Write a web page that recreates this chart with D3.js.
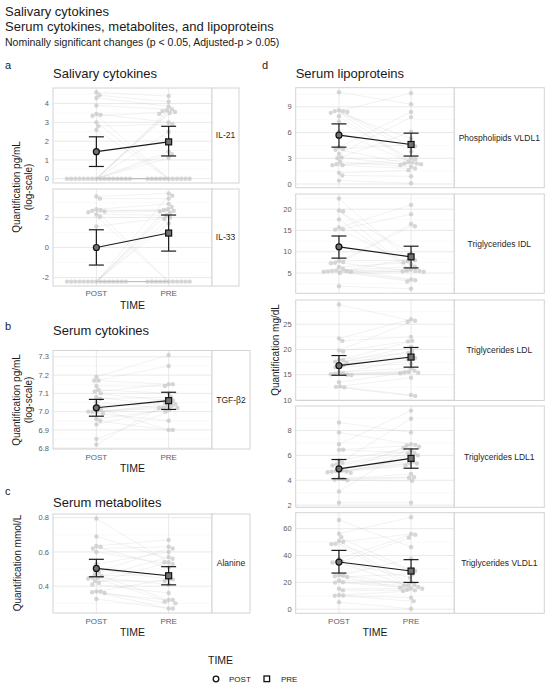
<!DOCTYPE html>
<html lang="en">
<head>
<meta charset="utf-8">
<script src="https://d3js.org/d3.v7.min.js"></script>
<style>
  body { margin: 0; background: #fff; }
  svg { font-family: "Liberation Sans", Arial, sans-serif; }
</style>
</head>
<body>
<div id="chart"></div>
<script>
  // categories
  const times = ["POST", "PRE"];

  // salivary cytokines, IL-21 (log-scale), paired by index
  const il21Post = [4.6, 4.45, 4.3, 3.9, 3.45, 3.4, 3.35, 3.0, 2.8, 2.6, 0, 0, 0, 0, 0, 0, 0, 0, 0, 0, 0, 0, 0, 0, 0, 0];
  const il21Pre = [4.4, 4.1, 3.85, 3.7, 3.0, 0, 3.55, 0, 2.9, 0, 3.65, 3.6, 3.5, 3.45, 2.5, 1.45, 1.3, 1.1, 0, 0, 0, 0, 0, 0, 0, 0];
  const il21Mean = [1.44, 1.96], il21Lo = [0.65, 1.21], il21Hi = [2.23, 2.79];
  const il21Ticks = [0, 1, 2, 3, 4];

  // IL-33 (log-scale), -2.27 is the floor row
  const il33Post = [3.4, 3.25, 2.55, 2.5, 2.45, 2.4, 2.35, 2.2, 2.05, 1.4, -2.27, -2.27, -2.27, -2.27, -2.27, -2.27, -2.27, -2.27, -2.27, -2.27, -2.27, -2.27, -2.27, -2.27, -2.27];
  const il33Pre = [3.6, 3.25, 2.9, 2.45, -2.27, 2.55, 2.4, 2.15, -2.27, 2.0, 3.45, 2.7, 2.3, 1.9, 2.5, 1.6, -2.27, -2.27, -2.27, -2.27, -2.27, -2.27, -2.27, -2.27, -2.27];
  const il33Mean = [0.0, 0.96], il33Lo = [-1.17, -0.24], il33Hi = [1.18, 2.16];
  const il33Ticks = [-2, 0, 2];

  // serum cytokines, TGF-b2 (log-scale)
  const tgfPost = [7.19, 7.17, 7.17, 7.14, 7.12, 7.11, 7.10, 7.08, 7.07, 7.05, 7.03, 7.02, 7.01, 7.00, 7.00, 7.00, 6.99, 6.96, 6.95, 6.93, 6.85, 6.82];
  const tgfPre = [7.31, 7.15, 7.25, 7.14, 7.10, 7.15, 7.06, 7.03, 7.08, 7.02, 7.05, 6.90, 7.07, 7.04, 7.02, 7.03, 6.95, 7.01, 6.90, 7.02, 7.00, 7.05];
  const tgfMean = [7.021, 7.06], tgfLo = [6.975, 7.012], tgfHi = [7.067, 7.106];
  const tgfTicks = [6.8, 6.9, 7.0, 7.1, 7.2, 7.3];

  // serum metabolites, alanine (mmol/L)
  const alaPost = [0.795, 0.69, 0.635, 0.63, 0.62, 0.60, 0.53, 0.50, 0.48, 0.47, 0.46, 0.45, 0.45, 0.445, 0.43, 0.42, 0.41, 0.37, 0.37, 0.365, 0.36, 0.325];
  const alaPre = [0.54, 0.56, 0.67, 0.51, 0.63, 0.53, 0.60, 0.44, 0.62, 0.32, 0.47, 0.41, 0.57, 0.31, 0.43, 0.54, 0.36, 0.30, 0.44, 0.27, 0.32, 0.27];
  const alaMean = [0.504, 0.461], alaLo = [0.455, 0.408], alaHi = [0.557, 0.514];
  const alaTicks = [0.4, 0.6, 0.8];

  // serum lipoproteins (mg/dL)
  const plVldl1Post = [10.7, 8.6, 8.5, 8.5, 8.4, 8.3, 7.9, 7.3, 6.1, 4.3, 4.1, 4.0, 3.5, 3.1, 3.0, 2.6, 2.3, 2.2, 2.2, 1.3, 1.0, 0.4];
  const plVldl1Pre = [9.3, 4.4, 3.8, 10.6, 2.6, 5.3, 2.4, 3.0, 2.5, 8.4, 4.6, 2.3, 7.8, 2.2, 6.1, 2.0, 2.4, 1.8, 2.9, 1.6, 0.9, 0.1];
  const plVldl1Mean = [5.7, 4.61], plVldl1Lo = [4.3, 3.26], plVldl1Hi = [7.01, 5.93];
  const plVldl1Ticks = [0, 3, 6, 9];

  const tgIdlPost = [22.5, 19.7, 19.5, 17.6, 15.7, 15.3, 15.2, 7.9, 7.6, 7.4, 7.3, 6.4, 6.0, 5.6, 5.5, 5.5, 5.4, 5.3, 5.3, 5.0, 1.9];
  const tgIdlPre = [7.8, 5.6, 9.6, 5.5, 21.0, 7.0, 18.8, 8.0, 16.5, 5.4, 16.0, 7.5, 3.5, 6.5, 5.3, 3.3, 5.8, 3.0, 8.4, 5.5, 1.3];
  const tgIdlMean = [11.15, 8.8], tgIdlLo = [8.5, 6.2], tgIdlHi = [13.7, 11.3];
  const tgIdlTicks = [5, 10, 15, 20];

  const tgLdlPost = [28.9, 22.2, 21.7, 19.8, 19.6, 18.0, 17.9, 17.6, 17.4, 17.0, 16.9, 16.5, 15.5, 15.3, 15.2, 15.1, 15.0, 14.9, 13.5, 12.7, 12.6, 12.5];
  const tgLdlPre = [25.7, 26.0, 22.5, 25.5, 21.7, 19.3, 21.6, 18.6, 20.5, 18.3, 19.7, 17.2, 16.3, 18.0, 15.5, 15.8, 15.4, 15.3, 15.6, 14.4, 11.0, 10.8];
  const tgLdlMean = [16.8, 18.5], tgLdlLo = [14.9, 16.5], tgLdlHi = [18.8, 20.4];
  const tgLdlTicks = [10, 15, 20, 25];

  const tgLdl1Post = [8.65, 7.85, 6.9, 6.45, 6.45, 5.6, 5.4, 5.3, 5.2, 5.0, 4.8, 4.75, 4.7, 4.7, 4.65, 4.6, 4.15, 4.1, 4.05, 4.0, 3.1, 2.2];
  const tgLdl1Pre = [7.85, 6.9, 9.6, 6.8, 6.2, 6.6, 8.95, 6.4, 6.15, 5.5, 6.0, 5.4, 6.85, 5.35, 5.2, 5.8, 4.25, 4.5, 4.2, 3.95, 6.7, 2.2];
  const tgLdl1Mean = [4.92, 5.76], tgLdl1Lo = [4.13, 4.97], tgLdl1Hi = [5.67, 6.52];
  const tgLdl1Ticks = [2, 4, 6, 8];

  const tgVldl1Post = [66.5, 56.3, 53.7, 50.8, 50.2, 48.8, 48.5, 37.6, 35.5, 35.0, 34.8, 25.5, 25.0, 24.5, 24.0, 21.4, 20.1, 19.8, 15.2, 14.0, 10.5, 10.2, 10.0, 5.2];
  const tgVldl1Pre = [46.3, 68.5, 29.0, 17.7, 56.0, 28.5, 15.5, 55.5, 23.4, 16.5, 53.3, 18.0, 37.6, 14.5, 26.0, 20.0, 17.5, 16.0, 15.2, 14.0, 13.5, 8.5, 6.0, 0.3];
  const tgVldl1Mean = [35.1, 28.4], tgVldl1Lo = [26.9, 19.9], tgVldl1Hi = [43.8, 36.9];
  const tgVldl1Ticks = [0, 20, 40, 60];

  const W = 550, H = 687;
  const gridMajor = "#e6e6e6", gridMinor = "#f3f3f3", borderCol = "#d3d3d3";

  const svg = d3.select("#chart").append("svg")
    .attr("width", W).attr("height", H);

  // panels: data + where each facet sits
  const panels = [
    {label: "IL-21", post: il21Post, pre: il21Pre, mean: il21Mean, lo: il21Lo, hi: il21Hi, ticks: il21Ticks, fmt: d3.format("d"),
      x0: 53, x1: 212, xs: 239, y0: 88, y1: 183},
    {label: "IL-33", post: il33Post, pre: il33Pre, mean: il33Mean, lo: il33Lo, hi: il33Hi, ticks: il33Ticks, fmt: v => String(v),
      x0: 53, x1: 212, xs: 239, y0: 189, y1: 286},
    {label: "TGF-β2", post: tgfPost, pre: tgfPre, mean: tgfMean, lo: tgfLo, hi: tgfHi, ticks: tgfTicks, fmt: d3.format(".1f"),
      x0: 53, x1: 212, xs: 250, y0: 350.5, y1: 449},
    {label: "Alanine", post: alaPost, pre: alaPre, mean: alaMean, lo: alaLo, hi: alaHi, ticks: alaTicks, fmt: d3.format(".1f"),
      x0: 53, x1: 212, xs: 250, y0: 514, y1: 613},
    {label: "Phospholipids VLDL1", post: plVldl1Post, pre: plVldl1Pre, mean: plVldl1Mean, lo: plVldl1Lo, hi: plVldl1Hi, ticks: plVldl1Ticks, fmt: d3.format("d"),
      x0: 295.7, x1: 454.3, xs: 544.3, y0: 87.7, y1: 187.7},
    {label: "Triglycerides IDL", post: tgIdlPost, pre: tgIdlPre, mean: tgIdlMean, lo: tgIdlLo, hi: tgIdlHi, ticks: tgIdlTicks, fmt: d3.format("d"),
      x0: 295.7, x1: 454.3, xs: 544.3, y0: 194, y1: 293.3},
    {label: "Triglycerides LDL", post: tgLdlPost, pre: tgLdlPre, mean: tgLdlMean, lo: tgLdlLo, hi: tgLdlHi, ticks: tgLdlTicks, fmt: d3.format("d"),
      x0: 295.7, x1: 454.3, xs: 544.3, y0: 300, y1: 400.5},
    {label: "Triglycerides LDL1", post: tgLdl1Post, pre: tgLdl1Pre, mean: tgLdl1Mean, lo: tgLdl1Lo, hi: tgLdl1Hi, ticks: tgLdl1Ticks, fmt: d3.format("d"),
      x0: 295.7, x1: 454.3, xs: 544.3, y0: 406, y1: 507.3},
    {label: "Triglycerides VLDL1", post: tgVldl1Post, pre: tgVldl1Pre, mean: tgVldl1Mean, lo: tgVldl1Lo, hi: tgVldl1Hi, ticks: tgVldl1Ticks, fmt: d3.format("d"),
      x0: 295.7, x1: 454.3, xs: 544.3, y0: 512.7, y1: 613.3}
  ];

  // simple beeswarm: push points sideways until they don't collide
  function swarm(vals, y, cx, d) {
    const order = vals.map((v, i) => ({i: i, y: y(v)})).sort((a, b) => a.y - b.y);
    const placed = [], out = new Array(vals.length);
    order.forEach(p => {
      let off = 0;
      for (let k = 0; k < 400; k++) {
        const o = (k % 2 === 1 ? 1 : -1) * Math.ceil(k / 2) * 0.2;
        if (placed.every(q => Math.hypot(q.x - o, q.y - p.y) >= d - 1e-6)) { off = o; break; }
      }
      placed.push({x: off, y: p.y});
      out[p.i] = cx + off;
    });
    return out;
  }

  panels.forEach(p => {
    const g = svg.append("g");
    const all = p.post.concat(p.pre, p.lo, p.hi);
    const ext = d3.extent(all), pad = (ext[1] - ext[0]) * 0.05;
    const y = d3.scaleLinear().domain([ext[0] - pad, ext[1] + pad]).range([p.y1, p.y0]);
    const x = d3.scalePoint().domain(times).range([p.x0, p.x1]).padding(0.6);
    const [lo, hi] = y.domain();

    // minor grid
    const step = p.ticks[1] - p.ticks[0];
    const minor = [];
    for (let v = p.ticks[0] - step / 2; v <= hi; v += step) if (v >= lo) minor.push(v);
    g.append("rect").attr("x", p.x0).attr("y", p.y0).attr("width", p.x1 - p.x0).attr("height", p.y1 - p.y0).attr("fill", "#fff");
    g.selectAll(".mi").data(minor).enter().append("line")
      .attr("x1", p.x0).attr("x2", p.x1).attr("y1", d => y(d)).attr("y2", d => y(d))
      .attr("stroke", gridMinor).attr("stroke-width", 0.5);
    const major = p.ticks.filter(t => t >= lo - 1e-9 && t <= hi);
    g.selectAll(".ma").data(major).enter().append("line")
      .attr("x1", p.x0).attr("x2", p.x1).attr("y1", d => y(d)).attr("y2", d => y(d))
      .attr("stroke", gridMajor).attr("stroke-width", 0.9);
    g.selectAll(".mv").data(times).enter().append("line")
      .attr("x1", d => x(d)).attr("x2", d => x(d)).attr("y1", p.y0).attr("y2", p.y1)
      .attr("stroke", gridMajor).attr("stroke-width", 0.9);

    // y tick labels
    g.selectAll(".yt").data(major).enter().append("text")
      .attr("x", p.x0 - 4).attr("y", d => y(d)).attr("dy", "0.35em")
      .attr("text-anchor", "end").attr("font-size", 7.5).attr("fill", "#606060")
      .text(p.fmt);

    // paired subject lines
    const line = d3.line();
    p.post.forEach((v, i) => {
      g.append("path")
        .attr("d", line([[x("POST"), y(v)], [x("PRE"), y(p.pre[i])]]))
        .attr("stroke", "#a8a8a8").attr("stroke-opacity", 0.25).attr("stroke-width", 0.6).attr("fill", "none");
    });

    // swarm points
    [["POST", p.post], ["PRE", p.pre]].forEach(([t, vals]) => {
      const xs = swarm(vals, y, x(t), 4.2);
      g.selectAll(null).data(vals).enter().append("circle")
        .attr("cx", (d, i) => xs[i]).attr("cy", d => y(d)).attr("r", 2.2)
        .attr("fill", "#c6c6c6").attr("fill-opacity", 0.72);
    });

    // mean line, error bars, mean markers
    g.append("path")
      .attr("d", line(times.map((t, i) => [x(t), y(p.mean[i])])))
      .attr("stroke", "#1a1a1a").attr("stroke-width", 1.1).attr("fill", "none");
    times.forEach((t, i) => {
      const cx = x(t);
      g.append("line").attr("x1", cx).attr("x2", cx).attr("y1", y(p.lo[i])).attr("y2", y(p.hi[i]))
        .attr("stroke", "#1a1a1a").attr("stroke-width", 1.2);
      [p.lo[i], p.hi[i]].forEach(v => {
        g.append("line").attr("x1", cx - 7.5).attr("x2", cx + 7.5).attr("y1", y(v)).attr("y2", y(v))
          .attr("stroke", "#1a1a1a").attr("stroke-width", 1.2);
      });
      if (t === "POST") {
        g.append("circle").attr("cx", cx).attr("cy", y(p.mean[i])).attr("r", 3)
          .attr("fill", "#707070").attr("stroke", "#111").attr("stroke-width", 1.2);
      } else {
        g.append("rect").attr("x", cx - 3).attr("y", y(p.mean[i]) - 3).attr("width", 6).attr("height", 6)
          .attr("fill", "#707070").attr("stroke", "#111").attr("stroke-width", 1.2);
      }
    });

    // panel + strip borders
    g.append("rect").attr("x", p.x0).attr("y", p.y0).attr("width", p.x1 - p.x0).attr("height", p.y1 - p.y0)
      .attr("fill", "none").attr("stroke", borderCol).attr("stroke-width", 1);
    g.append("rect").attr("x", p.x1).attr("y", p.y0).attr("width", p.xs - p.x1).attr("height", p.y1 - p.y0)
      .attr("fill", "#fff").attr("stroke", borderCol).attr("stroke-width", 1);
    g.append("text").attr("x", (p.x1 + p.xs) / 2).attr("y", (p.y0 + p.y1) / 2).attr("dy", "0.35em")
      .attr("text-anchor", "middle").attr("font-size", 8.5).attr("fill", "#262626").text(p.label);
  });

  // x axis tick labels + TIME titles, one per column block
  const xBlocks = [
    {x0: 53, x1: 212, yTick: 296, yTitle: 308.5},
    {x0: 53, x1: 212, yTick: 460, yTitle: 472},
    {x0: 53, x1: 212, yTick: 624, yTitle: 636},
    {x0: 295.7, x1: 454.3, yTick: 624, yTitle: 636}
  ];
  xBlocks.forEach(b => {
    const x = d3.scalePoint().domain(times).range([b.x0, b.x1]).padding(0.6);
    svg.selectAll(null).data(times).enter().append("text")
      .attr("x", d => x(d)).attr("y", b.yTick).attr("text-anchor", "middle")
      .attr("font-size", 8).attr("fill", "#606060").text(d => d);
    svg.append("text").attr("x", (b.x0 + b.x1) / 2).attr("y", b.yTitle).attr("text-anchor", "middle")
      .attr("font-size", 10.5).attr("fill", "#1a1a1a").text("TIME");
  });

  // y axis titles
  function yTitle(lines, x, cy) {
    const t = svg.append("text").attr("transform", "translate(" + x + "," + cy + ") rotate(-90)")
      .attr("text-anchor", "middle").attr("font-size", 10).attr("fill", "#1a1a1a");
    lines.forEach((s, i) => t.append("tspan").attr("x", 0).attr("dy", i ? 12 : 0).text(s));
  }
  yTitle(["Quantification pg/mL", "(log-scale)"], 20, 187);
  yTitle(["Quantification pg/mL", "(log-scale)"], 20, 400);
  yTitle(["Quantification mmol/L"], 21, 563);
  yTitle(["Quantification mg/dL"], 279, 350);

  // headings
  const head = svg.append("g").attr("fill", "#1a1a1a");
  head.append("text").attr("x", 5).attr("y", 16).attr("font-size", 13).text("Salivary cytokines");
  head.append("text").attr("x", 5).attr("y", 31).attr("font-size", 13).text("Serum cytokines, metabolites, and lipoproteins");
  head.append("text").attr("x", 5).attr("y", 46).attr("font-size", 10.5).text("Nominally significant changes (p < 0.05, Adjusted-p > 0.05)");

  const letters = [["a", 5, 68.5], ["d", 262, 68.5], ["b", 5, 330], ["c", 5, 495]];
  letters.forEach(l => head.append("text").attr("x", l[1]).attr("y", l[2]).attr("font-size", 11).text(l[0]));
  const subs = [["Salivary cytokines", 53, 78], ["Serum lipoproteins", 295.7, 78], ["Serum cytokines", 53, 335], ["Serum metabolites", 53, 507]];
  subs.forEach(s => head.append("text").attr("x", s[1]).attr("y", s[2]).attr("font-size", 13).text(s[0]));

  // legend
  const leg = svg.append("g");
  leg.append("text").attr("x", 208).attr("y", 664).attr("font-size", 10.5).attr("fill", "#1a1a1a").text("TIME");
  leg.append("circle").attr("cx", 216).attr("cy", 679).attr("r", 2.8)
    .attr("fill", "#fff").attr("stroke", "#111").attr("stroke-width", 1.3);
  leg.append("text").attr("x", 229).attr("y", 682).attr("font-size", 8).attr("fill", "#1a1a1a").text("POST");
  leg.append("rect").attr("x", 264).attr("y", 676).attr("width", 5.6).attr("height", 5.6)
    .attr("fill", "#fff").attr("stroke", "#111").attr("stroke-width", 1.3);
  leg.append("text").attr("x", 281).attr("y", 682).attr("font-size", 8).attr("fill", "#1a1a1a").text("PRE");
</script>
</body>
</html>
